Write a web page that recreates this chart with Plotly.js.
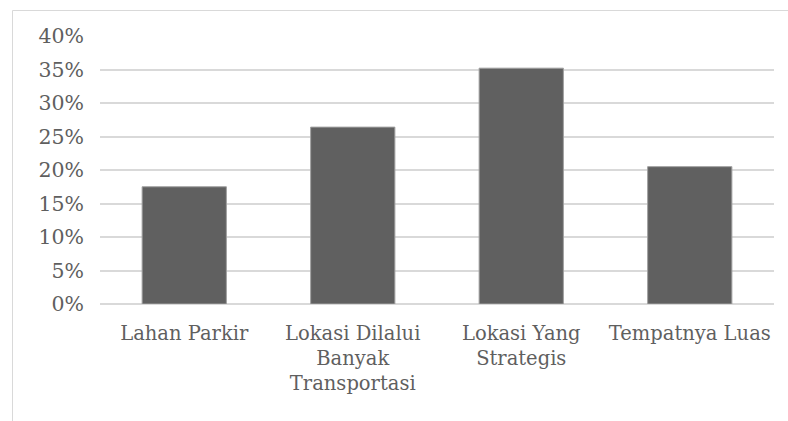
<!DOCTYPE html>
<html>
<head>
<meta charset="utf-8">
<script src="https://cdn.plot.ly/plotly-3.0.1.min.js"></script>
<style>
  html, body { margin: 0; padding: 0; background: #fff; }
  #chart { width: 788px; height: 421px; }
</style>
</head>
<body>
<div id="chart"></div>
<script>
// Alasan pemilihan lokasi (persentase responden)
const categories = [
  "Lahan Parkir",
  "Lokasi Dilalui<br>Banyak<br>Transportasi",
  "Lokasi Yang<br>Strategis",
  "Tempatnya Luas"
];
const shares = [0.175, 0.264, 0.352, 0.205];

// plot area in pixels, used to place the outer frame in paper units
const W = 788, H = 421;
const M = { l: 100, r: 14, t: 36, b: 117 };
const pw = W - M.l - M.r, ph = H - M.t - M.b;
const px = v => (v - M.l) / pw;
const py = v => (H - M.b - v) / ph;

const SERIF = "DejaVu Serif";

const trace = {
  type: "bar",
  x: categories,
  y: shares,
  marker: { color: "#606060", line: { color: "#a0a0a0", width: 1 } },
  hoverinfo: "skip"
};

const layout = {
  width: W,
  height: H,
  margin: M,
  font: { family: SERIF, size: 20, color: "#595959" },
  paper_bgcolor: "#ffffff",
  plot_bgcolor: "#ffffff",
  showlegend: false,
  bargap: 0.5,
  xaxis: {
    type: "category",
    showgrid: false,
    showline: false,
    ticks: "",
    tickangle: 0,
    ticklabelstandoff: 15,
    tickfont: { family: SERIF, size: 19.5, color: "#5f5f5f" }
  },
  yaxis: {
    range: [0, 0.4],
    dtick: 0.05,
    tickformat: ".0%",
    showline: false,
    ticks: "",
    ticklabelstandoff: 15,
    gridcolor: "#d9d9d9",
    gridwidth: 2,
    zeroline: true,
    zerolinecolor: "#d9d9d9",
    zerolinewidth: 2,
    tickfont: { family: SERIF, size: 20.5, color: "#5f5f5f" }
  },
  shapes: [{
    type: "rect",
    xref: "paper", yref: "paper",
    x0: px(12.5), x1: px(W + 20),
    y0: py(H + 20), y1: py(10.5),
    line: { color: "#d9d9d9", width: 1 },
    fillcolor: "rgba(0,0,0,0)",
    layer: "below"
  }]
};

Plotly.newPlot("chart", [trace], layout, { staticPlot: true, displayModeBar: false });
</script>
</body>
</html>
